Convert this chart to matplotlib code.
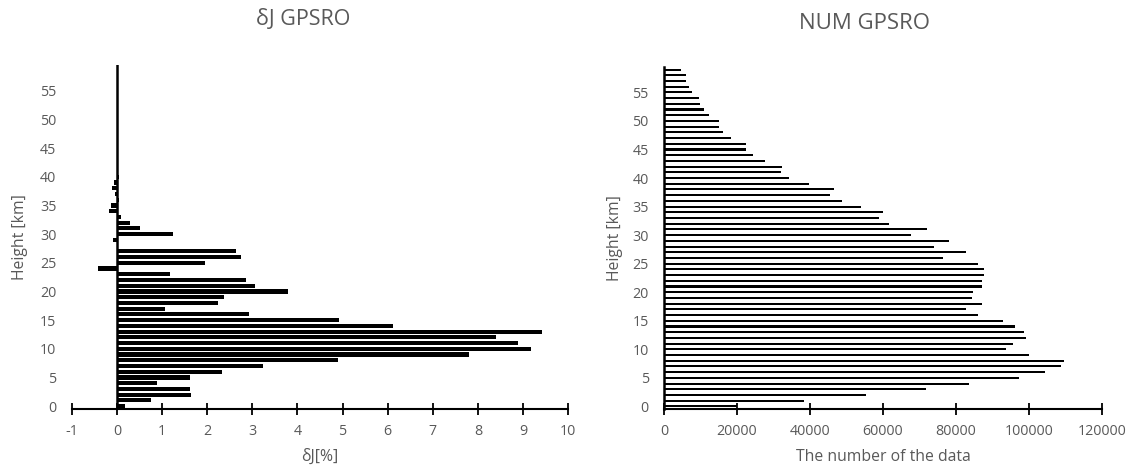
import matplotlib
matplotlib.use("Agg")
import matplotlib.pyplot as plt
import numpy as np

plt.rcParams['font.family'] = ['Open Sans', 'DejaVu Sans']
plt.rcParams['axes.unicode_minus'] = False

heights_km = list(range(0, 60))

# δJ [%] per km, 0..59
dj_values = [0.18, 0.76, 1.64, 1.62, 0.89, 1.62, 2.32, 3.23, 4.89, 7.81,
             9.18, 8.88, 8.40, 9.42, 6.11, 4.93, 2.93, 1.07, 2.24, 2.38,
             3.80, 3.06, 2.87, 1.17, -0.41, 1.96, 2.75, 2.63, 0.0, -0.09,
             1.24, 0.51, 0.30, 0.10, -0.18, -0.14, 0.05, -0.04, -0.11, -0.06,
             0.04, 0.0, 0.0, 0.0, 0.0, 0.0, 0.0, 0.0, 0.0, 0.0,
             0.0, 0.0, 0.0, 0.0, 0.0, 0.0, 0.0, 0.0, 0.0, 0.0]

# number of data per km, 0..59
num_values = [20000, 38500, 55400, 71700, 83600, 97300, 104400, 108700, 109700, 100000,
              93800, 95700, 99200, 98600, 96300, 92900, 86100, 82700, 87100, 84300,
              84800, 87000, 87100, 87800, 87800, 86100, 76500, 82800, 74100, 78100,
              67800, 72100, 61700, 58800, 59900, 53900, 48700, 45600, 46600, 39800,
              34300, 32000, 32200, 27700, 24400, 22500, 22600, 18400, 16300, 15100,
              15000, 12400, 11000, 9900, 9600, 7700, 6800, 6100, 5900, 4600]

left_xticks = list(range(-1, 11))
right_xticks = [0, 20000, 40000, 60000, 80000, 100000, 120000]
yticks = list(range(0, 60, 5))

gray = '#595959'

fig = plt.figure(figsize=(11.35, 4.73), dpi=100)
ax1 = fig.add_axes([0.0632, 0.1353, 0.4375, 0.7273])
ax2 = fig.add_axes([0.585, 0.1353, 0.3859, 0.7231])

# Left chart
ax1.barh(heights_km, dj_values, height=0.72, color='black')
ax1.axvline(0, color='black', lw=1.8, zorder=3)
ax1.set_xlim(-1, 10)
ax1.set_ylim(-0.5, 59.5)
ax1.set_xticks(left_xticks)
ax1.set_yticks(yticks)
for s in ['top', 'right', 'left']:
    ax1.spines[s].set_visible(False)
ax1.spines['bottom'].set_linewidth(1.5)
ax1.tick_params(axis='x', direction='inout', length=8, width=1.3, colors='black',
                labelcolor=gray, labelsize=10.3, pad=7)
ax1.tick_params(axis='y', length=0, labelcolor=gray, labelsize=10.3, pad=11)
ax1.set_xlabel('δJ[%]', color=gray, fontsize=11.3, labelpad=7)
ax1.set_ylabel('Height [km]', color=gray, fontsize=11.3, labelpad=9)
fig.text(0.267, 0.958, 'δJ GPSRO', color=gray, fontsize=15.5, ha='center', va='center')

# Right chart
ax2.barh(heights_km, num_values, height=0.36, color='black')
ax2.set_xlim(0, 120000)
ax2.set_ylim(-0.45, 59.45)
ax2.set_xticks(right_xticks)
ax2.set_yticks(yticks)
for s in ['top', 'right']:
    ax2.spines[s].set_visible(False)
ax2.spines['bottom'].set_linewidth(1.5)
ax2.spines['left'].set_linewidth(1.8)
ax2.tick_params(axis='x', direction='inout', length=8, width=1.3, colors='black',
                labelcolor=gray, labelsize=10.3, pad=7)
ax2.tick_params(axis='y', length=0, labelcolor=gray, labelsize=10.3, pad=11)
ax2.set_xlabel('The number of the data', color=gray, fontsize=11.3, labelpad=7)
ax2.set_ylabel('Height [km]', color=gray, fontsize=11.3, labelpad=7)
fig.text(0.762, 0.951, 'NUM GPSRO', color=gray, fontsize=16, ha='center', va='center')

fig.savefig('out.png', dpi=100)
